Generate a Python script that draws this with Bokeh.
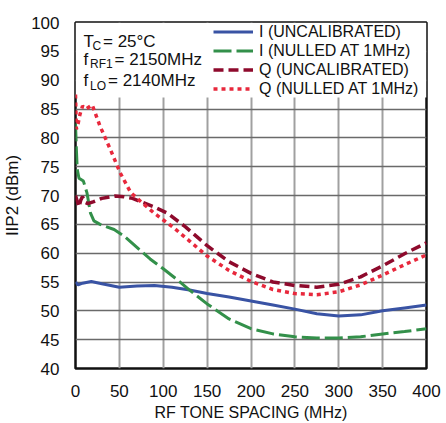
from bokeh.plotting import figure
from bokeh.models import (FixedTicker, Legend, LegendItem, Label, BoxAnnotation)
from bokeh.embed import file_html
from bokeh.resources import INLINE

FONT = "Liberation Sans"

# ---- data ----
i_uncal_x = [0, 3, 8, 18, 30, 50, 70, 90, 110, 130, 150, 175, 200, 225, 250, 275, 300, 325, 350, 375, 400]
i_uncal_y = [55.0, 54.5, 54.8, 55.1, 54.7, 54.1, 54.3, 54.4, 54.1, 53.6, 53.0, 52.4, 51.7, 51.0, 50.3, 49.5, 49.1, 49.3, 50.0, 50.5, 51.0]

i_null_x = [0, 1, 2, 4, 9, 13, 17, 21, 28, 44, 55, 70, 85, 100, 115, 130, 150, 175, 200, 225, 250, 275, 300, 325, 350, 375, 400]
i_null_y = [82.5, 78.0, 74.5, 73.0, 72.5, 70.5, 67.0, 65.6, 65.0, 64.1, 63.0, 61.0, 59.0, 57.3, 55.5, 53.6, 51.2, 48.6, 46.9, 46.0, 45.5, 45.3, 45.3, 45.5, 46.0, 46.4, 46.9]

q_uncal_x = [0, 2, 4, 6, 8, 11, 14, 20, 30, 45, 55, 65, 75, 90, 105, 125, 150, 175, 200, 225, 250, 275, 300, 325, 350, 375, 400]
q_uncal_y = [70.0, 69.0, 68.0, 69.2, 69.8, 68.8, 68.6, 68.9, 69.5, 69.9, 69.8, 69.5, 68.9, 68.0, 66.9, 64.6, 61.3, 58.5, 56.5, 55.0, 54.4, 54.1, 54.6, 55.9, 57.8, 59.9, 61.8]

q_null_x = [0, 1, 3, 5, 8, 12, 19, 28, 40, 51, 63, 74, 90, 112, 130, 150, 175, 200, 225, 250, 275, 300, 325, 350, 375, 400]
q_null_y = [87.5, 81.5, 82.5, 84.0, 85.5, 85.0, 85.7, 82.0, 77.9, 73.9, 70.5, 69.0, 66.9, 64.4, 62.1, 59.5, 57.0, 55.1, 53.7, 53.0, 52.8, 53.3, 54.5, 56.2, 58.0, 59.7]

x_ticks = [0, 50, 100, 150, 200, 250, 300, 350, 400]
y_ticks = [40, 45, 50, 55, 60, 65, 70, 75, 80, 85, 90, 95, 100]
labels = ["I (UNCALIBRATED)", "I (NULLED AT 1MHz)", "Q (UNCALIBRATED)", "Q (NULLED AT 1MHz)"]

p = figure(width=446, height=423, output_backend="svg", toolbar_location=None,
           x_range=(0, 400), y_range=(40, 100),
           min_border_left=75, min_border_right=20, min_border_top=22, min_border_bottom=53)

p.xaxis.ticker = FixedTicker(ticks=x_ticks)
p.yaxis.ticker = FixedTicker(ticks=y_ticks)
for ax in (p.xaxis[0], p.yaxis[0]):
    ax.major_tick_line_color = None
    ax.minor_tick_line_color = None
    ax.axis_line_color = None
    ax.major_label_text_font = FONT
    ax.major_label_text_font_size = "17px"
    ax.major_label_text_color = "#111111"
    ax.axis_label_text_font = FONT
    ax.axis_label_text_font_style = "normal"
    ax.axis_label_text_color = "#111111"
p.xaxis.major_label_standoff = 10
p.yaxis.major_label_standoff = 10
p.xaxis.axis_label = "RF TONE SPACING (MHz)"
p.yaxis.axis_label = "IIP2 (dBm)"
p.xaxis.axis_label_text_font_size = "16px"
p.yaxis.axis_label_text_font_size = "17px"
p.xaxis.axis_label_standoff = 4
p.yaxis.axis_label_standoff = 6

p.xgrid.grid_line_color = "#a0a0a0"
p.xgrid.grid_line_width = 2
p.ygrid.grid_line_color = "#6a6a6a"
p.ygrid.grid_line_width = 1.5
p.outline_line_color = "#111111"
p.outline_line_width = 2.5

# white area behind the notes and legend (covers grid lines)
p.add_layout(BoxAnnotation(bottom=87, fill_color="white", fill_alpha=1.0,
                           line_color=None, level="underlay"))

r1 = p.line(i_uncal_x, i_uncal_y, line_color="#3953a4", line_width=3)
r2 = p.line(i_null_x, i_null_y, line_color="#33904a", line_width=3, line_dash="18 5")
r3 = p.line(q_uncal_x, q_uncal_y, line_color="#8e0a2c", line_width=3.5, line_dash="10 5")
r4 = p.line(q_null_x, q_null_y, line_color="#e8283c", line_width=3.5, line_dash="4 4")

legend = Legend(items=[LegendItem(label=l, renderers=[r]) for l, r in zip(labels, [r1, r2, r3, r4])],
                location=(138, 270), padding=0, spacing=0, margin=0,
                glyph_width=40, glyph_height=19, label_height=19, label_standoff=6,
                label_text_font=FONT, label_text_font_size="16px", label_text_color="#111111",
                border_line_color=None, background_fill_alpha=0)
p.add_layout(legend)

def note(x, y, txt, size):
    p.add_layout(Label(x=x, y=y, x_units="screen", y_units="screen", text=txt,
                       text_font=FONT, text_font_size=size, text_color="#111111",
                       text_baseline="alphabetic"))

note(8, 327.5, "T", "17px")
note(17, 323, "C", "12px")
note(27.5, 327.5, "= 25°C", "17px")
note(8, 309, "f", "17px")
note(14.5, 304.5, "RF1", "12px")
note(39, 309, "= 2150MHz", "17px")
note(8, 288, "f", "17px")
note(14.5, 283, "LO", "12px")
note(32.5, 288, "= 2140MHz", "17px")

open("out.html", "w").write(file_html(p, INLINE))
